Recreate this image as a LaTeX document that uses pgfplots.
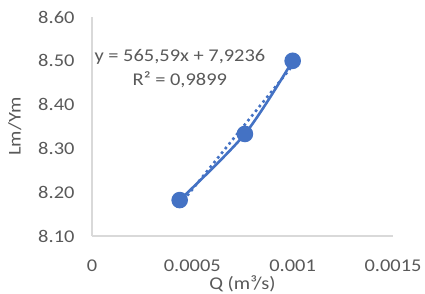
\documentclass[border=0pt]{standalone}
\usepackage{pgfplots}
\pgfplotsset{compat=1.18}
\usepackage{fontspec}
\setmainfont{Carlito}[FakeStretch=1.14]
\definecolor{exblue}{HTML}{4472C4}
\definecolor{extext}{HTML}{595959}
\definecolor{exaxis}{HTML}{D9D9D9}
\begin{document}
\begin{tikzpicture}
\begin{axis}[
  scale only axis,
  width=301bp, height=219bp,
  xmin=0, xmax=0.0015, ymin=8.1, ymax=8.6,
  axis lines*=left,
  axis line style={exaxis, line width=1.2bp},
  major tick length=0pt,
  scaled x ticks=false,
  xtick={0,0.0005,0.001,0.0015},
  xticklabels={0,0.0005,0.001,0.0015},
  ytick={8.1,8.2,8.3,8.4,8.5,8.6},
  yticklabels={8.10,8.20,8.30,8.40,8.50,8.60},
  ticklabel style={font=\fontsize{18}{21}\selectfont, text=extext},
  yticklabel style={xshift=-14bp},
  xticklabel style={yshift=-20bp},
  xlabel={Q (m³/s)},
  ylabel={Lm/Ym},
  label style={font=\fontsize{18}{21}\selectfont, text=extext},
  xlabel style={yshift=2.5bp},
  ylabel style={yshift=10bp},
  clip=false,
]
\coordinate (O) at (rel axis cs:0,0);
% data series: smoothed line with markers
\addplot[exblue, line width=2.6bp, smooth, mark=*, mark size=7bp, mark options={solid, fill=exblue, draw=exblue}]
  coordinates {(0.000437,8.182) (0.000762,8.333) (0.001,8.500)};
% linear trendline
\addplot[exblue, line width=2.6bp, dash pattern=on 2.6bp off 3.4bp]
  coordinates {(0.000437,8.1708) (0.001,8.4892)};
\node[text=extext, font=\fontsize{18}{21}\selectfont] at (axis cs:0.000438,8.509) {y = 565,59x + 7,9236};
\node[text=extext, font=\fontsize{18}{21}\selectfont] at (axis cs:0.000438,8.456) {R² = 0,9899};
\end{axis}
\pgfresetboundingbox
\path (O) ++(-92bp,-58bp) rectangle ++(425bp,294bp);
\end{tikzpicture}
\end{document}
